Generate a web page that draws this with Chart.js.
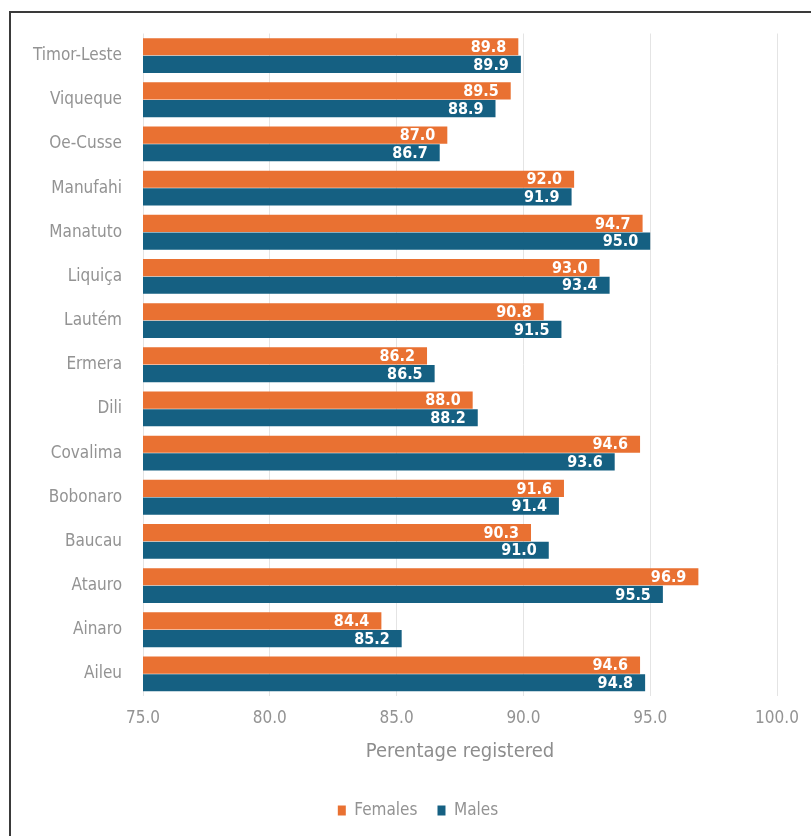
<!DOCTYPE html>
<html>
<head>
<meta charset="utf-8">
<script src="https://cdn.jsdelivr.net/npm/chart.js@4.4.1/dist/chart.umd.min.js"></script>
<style>
  html, body { margin: 0; padding: 0; background: #ffffff; }
  body { width: 811px; height: 836px; position: relative; overflow: hidden; }
  #frame {
    position: absolute; left: 9px; top: 11px;
    width: 802px; height: 825px;
    border-left: 2px solid #3a3a3a; border-top: 2px solid #3a3a3a;
    box-sizing: border-box;
  }
  #wrap { position: absolute; left: 0; top: 0; width: 800px; height: 823px; }
</style>
</head>
<body>
<div id="frame"><div id="wrap"><canvas id="chart"></canvas></div></div>
<script>
// Municipalities, top to bottom
const categories = [
  'Timor-Leste', 'Viqueque', 'Oe-Cusse', 'Manufahi', 'Manatuto',
  'Liquiça', 'Lautém', 'Ermera', 'Dili', 'Covalima',
  'Bobonaro', 'Baucau', 'Atauro', 'Ainaro', 'Aileu'
];
const females = [89.8, 89.5, 87.0, 92.0, 94.7, 93.0, 90.8, 86.2, 88.0, 94.6, 91.6, 90.3, 96.9, 84.4, 94.6];
const males   = [89.9, 88.9, 86.7, 91.9, 95.0, 93.4, 91.5, 86.5, 88.2, 93.6, 91.4, 91.0, 95.5, 85.2, 94.8];
const seriesNames = ['Females', 'Males'];
const xTicks = [75, 80, 85, 90, 95, 100];
const axisTitle = 'Perentage registered';

const FONT = "'DejaVu Sans Condensed', 'Liberation Sans Narrow', sans-serif";
const ORANGE = '#E97132';
const BLUE = '#156082';
const TEXT = '#939393';

// Writes each bar's value just inside its end
const valueLabels = {
  id: 'valueLabels',
  afterDatasetsDraw(chart) {
    const ctx = chart.ctx;
    ctx.save();
    ctx.font = 'bold 16px ' + FONT;
    ctx.fillStyle = '#ffffff';
    ctx.textAlign = 'right';
    ctx.textBaseline = 'middle';
    chart.data.datasets.forEach((ds, di) => {
      chart.getDatasetMeta(di).data.forEach((bar, i) => {
        ctx.fillText(ds.data[i].toFixed(1), bar.x - 12, bar.y + 1);
      });
    });
    ctx.restore();
  }
};

// Legend row: trims the extra height from the wider item spacing and nudges its position
const legendTune = {
  id: 'legendTune',
  beforeLayout(chart, args, opts) {
    const lg = chart.legend;
    if (lg && !lg._trimmed) {
      const fit = lg.fit.bind(lg);
      lg.fit = function () { fit(); this.height = Math.max(this.height - opts.trim, 0); };
      lg._trimmed = true;
    }
  },
  afterLayout(chart, args, opts) {
    const lg = chart.legend;
    if (lg) {
      lg.left += opts.dx; lg.right += opts.dx;
      lg.top += opts.dy; lg.bottom += opts.dy;
    }
  }
};

new Chart(document.getElementById('chart'), {
  type: 'bar',
  data: {
    labels: categories,
    datasets: [
      { label: seriesNames[0], data: females, backgroundColor: ORANGE },
      { label: seriesNames[1], data: males, backgroundColor: BLUE }
    ]
  },
  options: {
    indexAxis: 'y',
    responsive: true,
    maintainAspectRatio: false,
    animation: false,
    devicePixelRatio: 1,
    datasets: { bar: { categoryPercentage: 0.8, barPercentage: 0.97 } },
    layout: { padding: { top: 20.5, right: 34, bottom: 7, left: 0 } },
    scales: {
      x: {
        min: 75, max: 100,
        afterBuildTicks(scale) { scale.ticks = xTicks.map(v => ({ value: v })); },
        afterFit(scale) { scale.height = 96; },
        border: { display: false },
        grid: { color: '#e4e4e4', lineWidth: 1, drawTicks: true, tickLength: 12, tickColor: 'rgba(0,0,0,0)' },
        ticks: {
          padding: 0,
          color: TEXT,
          font: { family: FONT, size: 17 },
          callback: v => Number(v).toFixed(1)
        },
        title: {
          display: true, text: axisTitle, color: '#8d8d8d',
          font: { family: FONT, size: 20 },
          padding: { top: 8, bottom: 28 }
        }
      },
      y: {
        afterFit(scale) { scale.width = 132; },
        border: { display: false },
        grid: { display: false, drawTicks: true, tickLength: 21 },
        ticks: {
          padding: 0,
          color: TEXT,
          font: { family: FONT, size: 17 }
        }
      }
    },
    plugins: {
      legend: {
        position: 'bottom',
        labels: {
          boxWidth: 8, boxHeight: 10, padding: 20,
          color: TEXT,
          font: { family: FONT, size: 17 }
        }
      },
      legendTune: { trim: 10, dx: 24, dy: -10 },
      tooltip: { enabled: false }
    }
  },
  plugins: [valueLabels, legendTune]
});
</script>
</body>
</html>
